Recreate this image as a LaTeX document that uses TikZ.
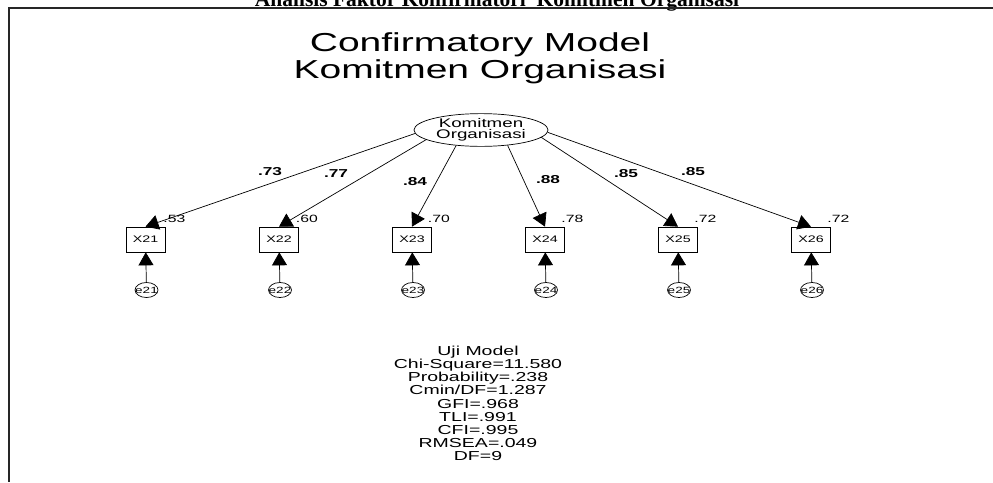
\documentclass[tikz,border=0pt]{standalone}
\usepackage{fontspec}
\setmainfont{Liberation Sans}
\newfontfamily\wide[FakeStretch=1.5]{Liberation Sans}
\newfontfamily\headfont{Liberation Serif}
\usetikzlibrary{arrows.meta,shapes.geometric}

\tikzset{
  frameline/.style={line width=2pt,draw=black!85},
  latent/.style={ellipse,draw,line width=0.7pt,minimum width=134pt,minimum height=28pt,
    inner sep=0pt,align=center,font=\wide\fontsize{12.5}{11.5}\selectfont},
  obsbox/.style={rectangle,draw,line width=0.7pt,minimum width=39pt,minimum height=25pt,
    inner sep=0pt,font=\wide\fontsize{9.5}{10}\selectfont},
  errnode/.style={ellipse,draw,line width=0.7pt,minimum width=23pt,minimum height=15pt,
    inner sep=0pt,font=\wide\fontsize{9}{10}\selectfont},
  pathline/.style={line width=0.7pt,-{Triangle[length=13pt,width=15pt]}},
  loadlbl/.style={font=\wide\bfseries\fontsize{11.5}{12}\selectfont,inner sep=0pt},
  rsqlbl/.style={font=\wide\fontsize{10.5}{12}\selectfont,inner sep=0pt},
}

\begin{document}
\begin{tikzpicture}[x=1pt,y=-1pt]
\useasboundingbox (0,0) rectangle (993,482);

% page heading, partly above the sheet
\node[font=\headfont\bfseries\fontsize{21.5}{22}\selectfont,anchor=base,inner sep=0pt]
  (head) at (497,6) {Analisis Faktor Konfirmatori\ \ Komitmen Organisasi};

% frame of the figure
\draw[frameline] (993,7.5) -- (8.5,7.5) -- (8.5,482);

% diagram title
\node[font=\wide\fontsize{26}{27}\selectfont,inner sep=0pt] (t1) at (480,45) {Confirmatory Model};
\node[font=\wide\fontsize{26}{27}\selectfont,inner sep=0pt] (t2) at (480,72) {Komitmen Organisasi};

% latent factor
\node[latent] (K) at (481,130) {Komitmen\\Organisasi};

% indicators and their error terms
\foreach \i/\cx in {1/145.5,2/279,3/412,4/545,5/678,6/811}{
  \node[obsbox] (X2\i) at (\cx,239.5) {X2\i};
  \node[errnode] (e2\i) at (\cx+1,290) {\makebox[0pt]{e2\i}};
  \draw[pathline] (e2\i) -- (X2\i);
}

% factor loadings
\draw[pathline] (K.183) -- (X21.north);
\draw[pathline] (K.190) -- (X22.north);
\draw[pathline] (K.212) -- (X23.north);
\draw[pathline] (K.330) -- (X24.north);
\draw[pathline] (K.353) -- (X25.north);
\draw[pathline] (K.358) -- (X26.north);

\node[loadlbl] (l1) at (270,172) {.73};
\node[loadlbl] (l2) at (336,174) {.77};
\node[loadlbl] (l3) at (415,182) {.84};
\node[loadlbl] (l4) at (548,180) {.88};
\node[loadlbl] (l5) at (626,174) {.85};
\node[loadlbl] (l6) at (693,172) {.85};

% squared multiple correlations
\node[rsqlbl] (r1) at ([shift={(9,-8)}]X21.north east) {.53};
\node[rsqlbl] (r2) at ([shift={(8,-8)}]X22.north east) {.60};
\node[rsqlbl] (r3) at ([shift={(7,-8)}]X23.north east) {.70};
\node[rsqlbl] (r4) at ([shift={(7.5,-8)}]X24.north east) {.78};
\node[rsqlbl] (r5) at ([shift={(7.5,-8)}]X25.north east) {.72};
\node[rsqlbl] (r6) at ([shift={(7.5,-8)}]X26.north east) {.72};

% fit statistics
\node[font=\wide\fontsize{13}{13.1}\selectfont,align=center,anchor=north,inner sep=0pt] (fit) at (478,346)
  {Uji Model\\Chi-Square=11.580\\Probability=.238\\Cmin/DF=1.287\\GFI=.968\\TLI=.991\\CFI=.995\\RMSEA=.049\\DF=9};
\end{tikzpicture}
\end{document}
